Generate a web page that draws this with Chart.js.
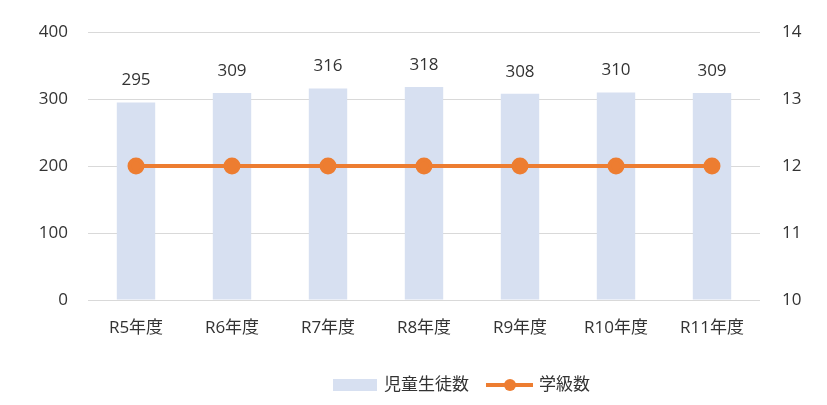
<!DOCTYPE html>
<html>
<head>
<meta charset="utf-8">
<script src="https://cdn.jsdelivr.net/npm/chart.js@4.4.1/dist/chart.umd.min.js"></script>
<style>
  html, body { margin: 0; padding: 0; background: #fff; }
  #wrap { width: 827px; height: 405px; position: relative; }
</style>
</head>
<body>
<div id="wrap"><canvas id="chart"></canvas></div>
<script>
  "use strict";
  var years = ["R5年度", "R6年度", "R7年度", "R8年度", "R9年度", "R10年度", "R11年度"];
  var students = [295, 309, 316, 318, 308, 310, 309];
  var classes = [12, 12, 12, 12, 12, 12, 12];
  var leftTicks = [0, 100, 200, 300, 400];
  var rightTicks = [10, 11, 12, 13, 14];

  var FONT = "'Open Sans', 'Noto Sans CJK JP', sans-serif";
  var TEXT = "#333333";
  var BAR = "#d7e0f1";
  var LINE = "#ed7d31";

  Chart.defaults.font.family = FONT;
  Chart.defaults.font.size = 17;
  Chart.defaults.color = TEXT;

  var labelPlugin = {
    id: 'barLabels',
    afterDatasetsDraw: function (chart) {
      var ctx = chart.ctx;
      var meta = chart.getDatasetMeta(1);
      ctx.save();
      ctx.font = "17px " + FONT;
      ctx.fillStyle = TEXT;
      ctx.textAlign = 'center';
      ctx.textBaseline = 'middle';
      meta.data.forEach(function (bar, i) {
        ctx.fillText(students[i], bar.x, bar.y - 22);
      });
      ctx.restore();
    }
  };

  var legendPlugin = {
    id: 'bottomLegend',
    afterDraw: function (chart) {
      var ctx = chart.ctx;
      var y = 385;
      ctx.save();
      ctx.font = "17px " + FONT;
      ctx.textBaseline = 'middle';
      ctx.textAlign = 'left';
      // bar entry
      ctx.fillStyle = BAR;
      ctx.fillRect(333, y - 6, 44, 12);
      ctx.fillStyle = TEXT;
      ctx.fillText("児童生徒数", 384, y);
      // line entry
      ctx.strokeStyle = LINE;
      ctx.lineWidth = 4;
      ctx.beginPath();
      ctx.moveTo(486, y);
      ctx.lineTo(533, y);
      ctx.stroke();
      ctx.fillStyle = LINE;
      ctx.beginPath();
      ctx.arc(510, y, 6, 0, Math.PI * 2);
      ctx.fill();
      ctx.fillStyle = TEXT;
      ctx.fillText("学級数", 539, y);
      ctx.restore();
    }
  };

  new Chart(document.getElementById('chart').getContext('2d'), {
    data: {
      labels: years,
      datasets: [
        {
          type: 'line',
          label: '学級数',
          data: classes,
          yAxisID: 'y1',
          borderColor: LINE,
          backgroundColor: LINE,
          borderWidth: 4,
          pointRadius: 6.5,
          pointHoverRadius: 6.5,
          order: 0
        },
        {
          type: 'bar',
          label: '児童生徒数',
          data: students,
          yAxisID: 'y',
          backgroundColor: BAR,
          categoryPercentage: 1,
          barPercentage: 0.4,
          order: 1
        }
      ]
    },
    options: {
      responsive: true,
      maintainAspectRatio: false,
      animation: false,
      layout: { padding: { top: 30, left: 0, right: 0, bottom: 0 } },
      plugins: {
        legend: { display: false },
        tooltip: { enabled: false }
      },
      scales: {
        x: {
          grid: { display: false },
          border: { display: false },
          ticks: { padding: 10, maxRotation: 0 },
          afterFit: function (s) { s.height = 105; }
        },
        y: {
          position: 'left',
          min: 0, max: 400,
          afterBuildTicks: function (s) { s.ticks = leftTicks.map(function (v) { return { value: v }; }); },
          grid: { color: '#d9d9d9', lineWidth: 1, drawTicks: false },
          border: { display: false },
          ticks: { padding: 20 },
          afterFit: function (s) { s.width = 88; }
        },
        y1: {
          position: 'right',
          min: 10, max: 14,
          afterBuildTicks: function (s) { s.ticks = rightTicks.map(function (v) { return { value: v }; }); },
          grid: { display: false, drawTicks: false },
          border: { display: false },
          ticks: { padding: 22, crossAlign: 'near' },
          afterFit: function (s) { s.width = 67; }
        }
      }
    },
    plugins: [labelPlugin, legendPlugin]
  });
</script>
</body>
</html>
